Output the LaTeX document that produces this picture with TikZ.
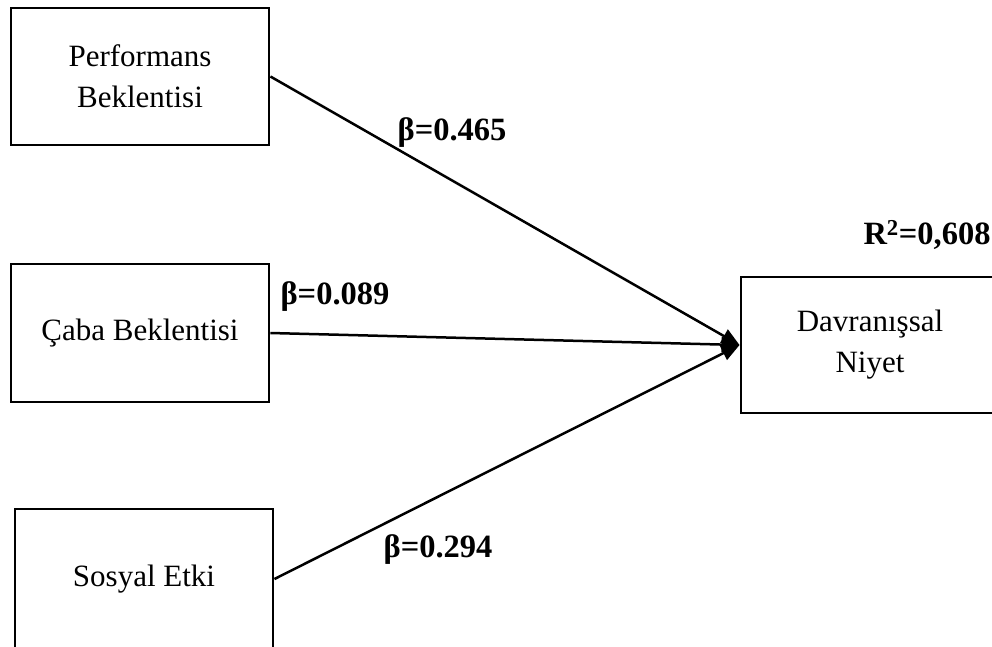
\documentclass[tikz,border=0pt]{standalone}
\usepackage{fontspec}
\setmainfont{Liberation Serif}
\usetikzlibrary{arrows.meta}

\tikzset{
  construct/.style={draw=black, line width=2.9pt, rectangle, align=center,
    inner sep=0pt, font=\fontsize{31}{41}\selectfont},
  path/.style={draw=black, line width=2.5pt, -{Triangle[length=18pt,width=15pt]}},
  coef/.style={font=\fontsize{32.5}{36}\bfseries\selectfont, inner sep=0pt}
}

\begin{document}
\begin{tikzpicture}[x=1pt, y=-1pt]
  \useasboundingbox (0,0) rectangle (992,646);

  % exogenous constructs
  \node[construct, minimum width=258pt, minimum height=137pt] (pe) at (140,76.5)
    {Performans\\Beklentisi};
  \node[construct, minimum width=258pt, minimum height=138pt] (ee) at (140,333)
    {Çaba Beklentisi};
  \node[construct, minimum width=258pt, minimum height=140pt] (si) at (144,579)
    {Sosyal Etki};

  % endogenous construct
  \node[construct, minimum width=258pt, minimum height=136pt] (bi) at (870,345)
    {Davranışsal\\Niyet};

  % structural paths
  \draw[path] (pe.east) -- (bi.west);
  \draw[path] (ee.east) -- (bi.west);
  \draw[path] (si.east) -- (bi.west);

  % path coefficients and explained variance
  \node[coef] (b1) at (452,133) {β=0.465};
  \node[coef] (b2) at (335,297) {β=0.089};
  \node[coef] (b3) at (438,550) {β=0.294};
  \node[coef] (r2) at (927,235) {R\textsuperscript{2}=0,608};
\end{tikzpicture}
\end{document}
